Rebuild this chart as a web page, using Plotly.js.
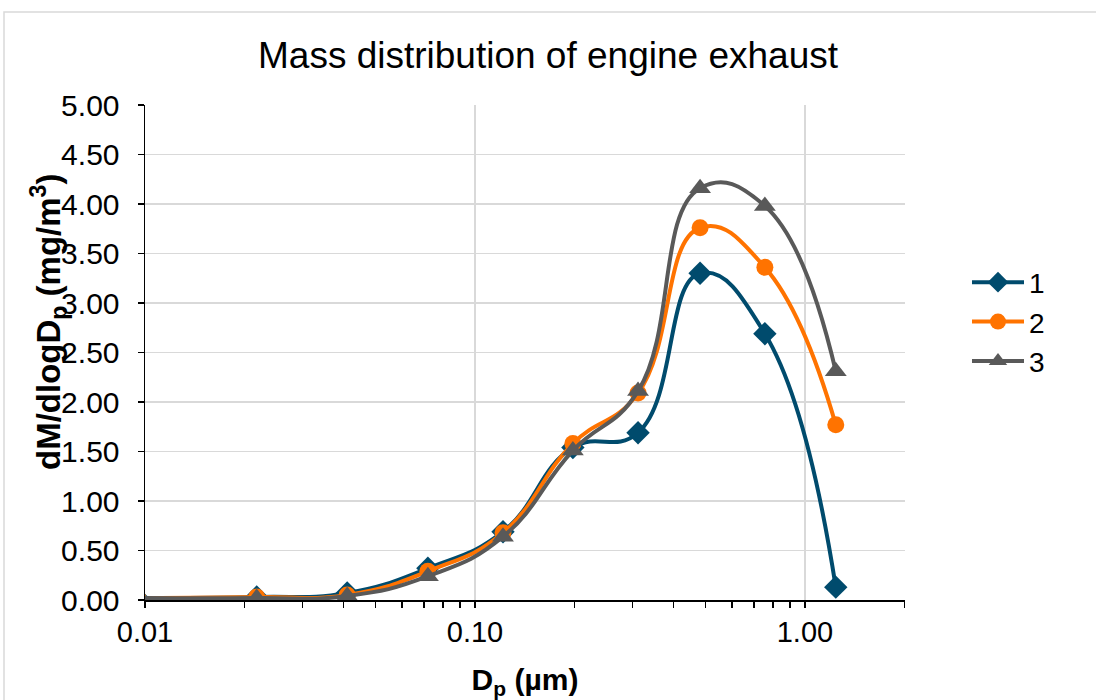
<!DOCTYPE html>
<html>
<head>
<meta charset="utf-8">
<script src="https://cdn.plot.ly/plotly-3.0.1.min.js"></script>
<style>html,body{margin:0;padding:0;background:#fff;}#chart{width:1096px;height:700px;}</style>
</head>
<body>
<div id="chart"></div>
<script>
// Particle diameter (µm)
const diameters = [0.0095, 0.0218, 0.041, 0.072, 0.1216, 0.198, 0.312, 0.481, 0.756, 1.24];
// dM/dlogDp (mg/m3)
const series1 = [0.02, 0.03, 0.07, 0.32, 0.69, 1.54, 1.69, 3.30, 2.69, 0.13];
const series2 = [0.02, 0.03, 0.05, 0.29, 0.68, 1.58, 2.09, 3.76, 3.36, 1.77];
const series3 = [0.02, 0.02, 0.04, 0.24, 0.64, 1.51, 2.11, 4.16, 3.98, 2.31];
const seriesNames = ['1', '2', '3'];
const xTickVals = [0.01, 0.1, 1];
const xTickText = ['0.01', '0.10', '1.00'];

const font = 'Liberation Sans, Arial, sans-serif';
const colors = ['#004b6d', '#ff7300', '#595959'];
const symbols = ['diamond', 'circle', 'triangle-up'];
const sizes = [18, 17, 19];
const data = [series1, series2, series3].map((ys, i) => ({
  x: diameters, y: ys, name: seriesNames[i], type: 'scatter', mode: 'lines+markers',
  line: {color: colors[i], width: 4, shape: 'spline', smoothing: 1.3},
  marker: {symbol: symbols[i], size: sizes[i], color: colors[i]},
  cliponaxis: true
}));

const L = 145, R = 905, T = 105, B = 600, W = 1096, H = 700;
const pw = R - L, ph = B - T;
const px = v => (v - L) / pw;
const py = v => (B - v) / ph;

const layout = {
  width: W, height: H,
  margin: {l: L, r: W - R, t: T, b: H - B},
  paper_bgcolor: '#fff', plot_bgcolor: '#fff',
  font: {family: font, color: '#000'},
  title: {text: 'Mass distribution of engine exhaust', font: {size: 37, color: '#000'}, x: 0.5, xanchor: 'center', y: 1 - 55 / H, yanchor: 'middle'},
  xaxis: {
    type: 'log', range: [-2, Math.log10(2.01)],
    tickmode: 'array', tickvals: xTickVals, ticktext: xTickText,
    ticks: 'outside', ticklen: 6, tickwidth: 1.5, tickcolor: '#000',
    showline: true, linecolor: '#000', linewidth: 1.5,
    showgrid: true, gridcolor: '#d9d9d9', gridwidth: 1.5,
    zeroline: false,
    tickfont: {size: 29, color: '#000'},
    minor: {dtick: 'D1', ticks: 'outside', ticklen: 6, tickwidth: 1.5, tickcolor: '#000', showgrid: false},
    title: {text: '<b>D<sub>p</sub> (µm)</b>', font: {size: 30, color: '#000'}, standoff: 22},
    automargin: false
  },
  yaxis: {
    range: [0, 5], dtick: 0.5, tickformat: '.2f',
    ticks: 'outside', ticklen: 6, tickwidth: 1.5, tickcolor: '#000',
    showline: true, linecolor: '#000', linewidth: 1.5,
    showgrid: true, gridcolor: '#d9d9d9', gridwidth: 1.5,
    zeroline: false, ticklabelstandoff: 12,
    tickfont: {size: 30, color: '#000'},
    automargin: false
  },
  legend: {x: px(967), xanchor: 'left', y: py(322), yanchor: 'middle',
           font: {size: 28, color: '#000'}, tracegroupgap: 0, itemwidth: 52,
           bgcolor: 'rgba(0,0,0,0)'},
  showlegend: true,
  annotations: [{
    text: '<b>dM/dlogD<sub>p</sub> (mg/m<sup>3</sup>)</b>', textangle: -90,
    xref: 'paper', yref: 'paper', x: px(48), y: py(322), xanchor: 'center', yanchor: 'middle',
    showarrow: false, font: {size: 33, color: '#000'}
  }],
  shapes: [{
    type: 'rect', xref: 'paper', yref: 'paper', layer: 'below',
    x0: px(4), x1: px(1200), y0: py(800), y1: py(12),
    line: {color: '#d9d9d9', width: 1.5}, fillcolor: 'rgba(0,0,0,0)'
  }]
};

Plotly.newPlot('chart', data, layout, {displayModeBar: false, staticPlot: true});
</script>
</body>
</html>
